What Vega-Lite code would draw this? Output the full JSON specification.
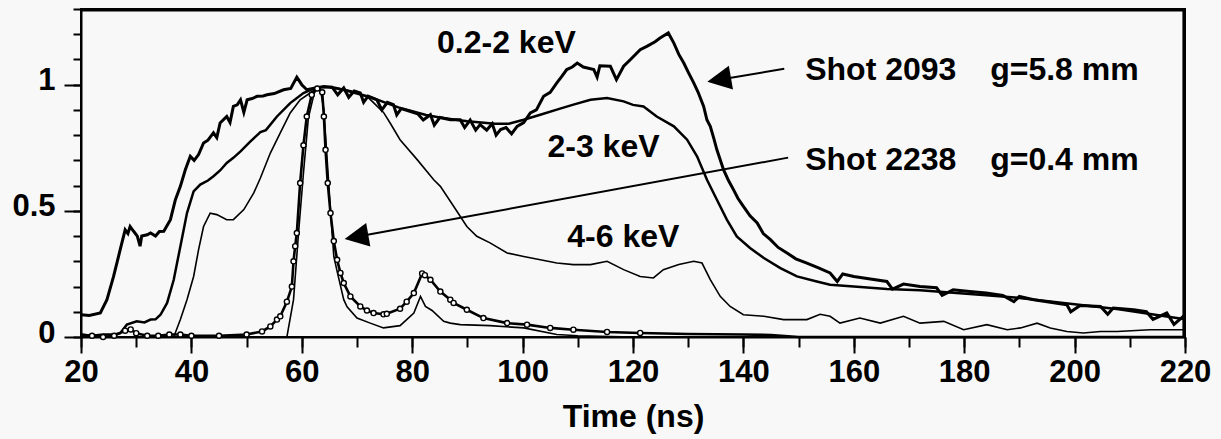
{
  "$schema": "https://vega.github.io/schema/vega-lite/v6.json",
  "width": 1104,
  "height": 328,
  "autosize": {"type": "none"},
  "padding": {"left": 81, "top": 9, "right": 36, "bottom": 102},
  "background": "#f8f8f8",
  "view": {"stroke": "#000000", "strokeWidth": 2},
  "config": {
    "font": "Liberation Sans",
    "axis": {"grid": false, "domainColor": "black", "domainWidth": 2, "tickColor": "black", "tickWidth": 2, "labelColor": "black", "titleColor": "black", "labelFont": "Liberation Sans", "titleFont": "Liberation Sans"}
  },
  "datasets": {
    "curves": [
      {"s":"A","t":20,"v":0.088},{"s":"A","t":21.5,"v":0.085},{"s":"A","t":23.5,"v":0.095},{"s":"A","t":24.7,"v":0.148},{"s":"A","t":25.9,"v":0.24},{"s":"A","t":27.1,"v":0.346},{"s":"A","t":28.0,"v":0.425},{"s":"A","t":28.5,"v":0.41},{"s":"A","t":28.9,"v":0.438},{"s":"A","t":29.5,"v":0.42},{"s":"A","t":30.2,"v":0.4},{"s":"A","t":30.7,"v":0.36},{"s":"A","t":31.0,"v":0.4},{"s":"A","t":32,"v":0.405},{"s":"A","t":32.6,"v":0.412},{"s":"A","t":33.5,"v":0.4},{"s":"A","t":34.2,"v":0.418},{"s":"A","t":35.0,"v":0.419},{"s":"A","t":36.2,"v":0.465},{"s":"A","t":37.1,"v":0.544},{"s":"A","t":38.0,"v":0.597},{"s":"A","t":38.9,"v":0.663},{"s":"A","t":39.8,"v":0.716},{"s":"A","t":40.5,"v":0.7},{"s":"A","t":41.3,"v":0.723},{"s":"A","t":42.2,"v":0.769},{"s":"A","t":43.0,"v":0.78},{"s":"A","t":44.0,"v":0.809},{"s":"A","t":44.6,"v":0.79},{"s":"A","t":45.2,"v":0.848},{"s":"A","t":46.4,"v":0.874},{"s":"A","t":47.0,"v":0.85},{"s":"A","t":47.6,"v":0.914},{"s":"A","t":48.3,"v":0.92},{"s":"A","t":48.9,"v":0.94},{"s":"A","t":49.5,"v":0.89},{"s":"A","t":50.1,"v":0.94},{"s":"A","t":51.0,"v":0.945},{"s":"A","t":51.9,"v":0.954},{"s":"A","t":53.0,"v":0.955},{"s":"A","t":53.7,"v":0.96},{"s":"A","t":55,"v":0.965},{"s":"A","t":56.7,"v":0.98},{"s":"A","t":58,"v":0.985},{"s":"A","t":59.1,"v":1.03},{"s":"A","t":60,"v":1.0},{"s":"A","t":60.9,"v":0.98},{"s":"A","t":62,"v":0.985},{"s":"A","t":64.0,"v":0.993},{"s":"A","t":65.5,"v":0.99},{"s":"A","t":66.5,"v":0.96},{"s":"A","t":67.6,"v":0.987},{"s":"A","t":68.5,"v":0.95},{"s":"A","t":69.5,"v":0.975},{"s":"A","t":70.6,"v":0.967},{"s":"A","t":71.2,"v":0.93},{"s":"A","t":72,"v":0.955},{"s":"A","t":73.6,"v":0.94},{"s":"A","t":74.5,"v":0.9},{"s":"A","t":75.5,"v":0.93},{"s":"A","t":76.6,"v":0.921},{"s":"A","t":77.2,"v":0.88},{"s":"A","t":78,"v":0.905},{"s":"A","t":79.7,"v":0.894},{"s":"A","t":81,"v":0.885},{"s":"A","t":82,"v":0.86},{"s":"A","t":83.3,"v":0.881},{"s":"A","t":84,"v":0.84},{"s":"A","t":85,"v":0.87},{"s":"A","t":86.9,"v":0.861},{"s":"A","t":88.7,"v":0.861},{"s":"A","t":89.5,"v":0.83},{"s":"A","t":90.5,"v":0.86},{"s":"A","t":91.5,"v":0.82},{"s":"A","t":92.3,"v":0.842},{"s":"A","t":93.5,"v":0.82},{"s":"A","t":94.5,"v":0.845},{"s":"A","t":95.2,"v":0.8},{"s":"A","t":96.0,"v":0.822},{"s":"A","t":97,"v":0.83},{"s":"A","t":98,"v":0.805},{"s":"A","t":99.0,"v":0.835},{"s":"A","t":100.2,"v":0.85},{"s":"A","t":101.4,"v":0.888},{"s":"A","t":102.5,"v":0.9},{"s":"A","t":103.8,"v":0.954},{"s":"A","t":105,"v":0.97},{"s":"A","t":106.2,"v":1.007},{"s":"A","t":107,"v":1.03},{"s":"A","t":108.0,"v":1.06},{"s":"A","t":109,"v":1.07},{"s":"A","t":109.9,"v":1.086},{"s":"A","t":111,"v":1.07},{"s":"A","t":112.9,"v":1.06},{"s":"A","t":113.5,"v":1.03},{"s":"A","t":114,"v":1.075},{"s":"A","t":115.9,"v":1.073},{"s":"A","t":117,"v":1.02},{"s":"A","t":118.3,"v":1.073},{"s":"A","t":119.5,"v":1.099},{"s":"A","t":121.3,"v":1.139},{"s":"A","t":122.5,"v":1.152},{"s":"A","t":124,"v":1.17},{"s":"A","t":124.9,"v":1.185},{"s":"A","t":126.4,"v":1.205},{"s":"A","t":127.4,"v":1.165},{"s":"A","t":128.3,"v":1.12},{"s":"A","t":129.2,"v":1.086},{"s":"A","t":130,"v":1.05},{"s":"A","t":131.0,"v":1.007},{"s":"A","t":131.8,"v":0.97},{"s":"A","t":132.8,"v":0.914},{"s":"A","t":133.4,"v":0.86},{"s":"A","t":134.0,"v":0.835},{"s":"A","t":134.6,"v":0.79},{"s":"A","t":135.2,"v":0.742},{"s":"A","t":136.4,"v":0.663},{"s":"A","t":137.3,"v":0.62},{"s":"A","t":138.2,"v":0.584},{"s":"A","t":139,"v":0.55},{"s":"A","t":140.0,"v":0.518},{"s":"A","t":141.2,"v":0.48},{"s":"A","t":142.5,"v":0.452},{"s":"A","t":143.6,"v":0.41},{"s":"A","t":144.9,"v":0.386},{"s":"A","t":146.3,"v":0.355},{"s":"A","t":147.9,"v":0.333},{"s":"A","t":149.5,"v":0.31},{"s":"A","t":151.5,"v":0.293},{"s":"A","t":153.5,"v":0.275},{"s":"A","t":155.7,"v":0.254},{"s":"A","t":157,"v":0.22},{"s":"A","t":158,"v":0.25},{"s":"A","t":160,"v":0.24},{"s":"A","t":163,"v":0.23},{"s":"A","t":166,"v":0.22},{"s":"A","t":167,"v":0.19},{"s":"A","t":169,"v":0.21},{"s":"A","t":172,"v":0.2},{"s":"A","t":175,"v":0.195},{"s":"A","t":176,"v":0.165},{"s":"A","t":178,"v":0.187},{"s":"A","t":181,"v":0.18},{"s":"A","t":184,"v":0.174},{"s":"A","t":187,"v":0.165},{"s":"A","t":189,"v":0.14},{"s":"A","t":190,"v":0.161},{"s":"A","t":192.6,"v":0.148},{"s":"A","t":195,"v":0.14},{"s":"A","t":198.6,"v":0.128},{"s":"A","t":199.3,"v":0.1},{"s":"A","t":201,"v":0.125},{"s":"A","t":204.7,"v":0.121},{"s":"A","t":206,"v":0.09},{"s":"A","t":207,"v":0.115},{"s":"A","t":210.7,"v":0.108},{"s":"A","t":213,"v":0.1},{"s":"A","t":214.2,"v":0.07},{"s":"A","t":216.7,"v":0.095},{"s":"A","t":218,"v":0.05},{"s":"A","t":220,"v":0.088},

      {"s":"B","t":20,"v":0.009},{"s":"B","t":22,"v":0.005},{"s":"B","t":24,"v":0.01},{"s":"B","t":26,"v":0.01},{"s":"B","t":27.1,"v":0.015},{"s":"B","t":28.3,"v":0.049},{"s":"B","t":30.1,"v":0.062},{"s":"B","t":31.5,"v":0.058},{"s":"B","t":32.6,"v":0.069},{"s":"B","t":33.5,"v":0.07},{"s":"B","t":34.4,"v":0.088},{"s":"B","t":35.6,"v":0.135},{"s":"B","t":36.8,"v":0.227},{"s":"B","t":38.0,"v":0.359},{"s":"B","t":39.2,"v":0.491},{"s":"B","t":40.4,"v":0.577},{"s":"B","t":41.6,"v":0.604},{"s":"B","t":43,"v":0.62},{"s":"B","t":44.0,"v":0.637},{"s":"B","t":45.2,"v":0.66},{"s":"B","t":46.4,"v":0.69},{"s":"B","t":47.6,"v":0.71},{"s":"B","t":48.9,"v":0.736},{"s":"B","t":50.7,"v":0.775},{"s":"B","t":52.5,"v":0.812},{"s":"B","t":53.5,"v":0.82},{"s":"B","t":55.5,"v":0.874},{"s":"B","t":57.9,"v":0.927},{"s":"B","t":60.3,"v":0.967},{"s":"B","t":62.8,"v":0.99},{"s":"B","t":65,"v":0.99},{"s":"B","t":67.5,"v":0.98},{"s":"B","t":70,"v":0.965},{"s":"B","t":72.5,"v":0.95},{"s":"B","t":75,"v":0.93},{"s":"B","t":77.5,"v":0.91},{"s":"B","t":80,"v":0.895},{"s":"B","t":82.5,"v":0.88},{"s":"B","t":85,"v":0.87},{"s":"B","t":87.5,"v":0.862},{"s":"B","t":90,"v":0.855},{"s":"B","t":92.5,"v":0.85},{"s":"B","t":95,"v":0.845},{"s":"B","t":97.5,"v":0.845},{"s":"B","t":100.2,"v":0.861},{"s":"B","t":103.2,"v":0.881},{"s":"B","t":106.2,"v":0.901},{"s":"B","t":109.2,"v":0.921},{"s":"B","t":112.3,"v":0.94},{"s":"B","t":115.3,"v":0.947},{"s":"B","t":118.3,"v":0.934},{"s":"B","t":120,"v":0.92},{"s":"B","t":121.9,"v":0.914},{"s":"B","t":124.3,"v":0.874},{"s":"B","t":127.4,"v":0.835},{"s":"B","t":129.8,"v":0.782},{"s":"B","t":131.6,"v":0.716},{"s":"B","t":133.4,"v":0.623},{"s":"B","t":135.2,"v":0.544},{"s":"B","t":137.0,"v":0.465},{"s":"B","t":138.8,"v":0.399},{"s":"B","t":141.2,"v":0.353},{"s":"B","t":143.7,"v":0.313},{"s":"B","t":146.7,"v":0.273},{"s":"B","t":149.7,"v":0.24},{"s":"B","t":153.3,"v":0.22},{"s":"B","t":155.7,"v":0.207},{"s":"B","t":160,"v":0.2},{"s":"B","t":166,"v":0.19},{"s":"B","t":172,"v":0.185},{"s":"B","t":178,"v":0.175},{"s":"B","t":184,"v":0.165},{"s":"B","t":190,"v":0.155},{"s":"B","t":196,"v":0.14},{"s":"B","t":202,"v":0.125},{"s":"B","t":208,"v":0.11},{"s":"B","t":214,"v":0.09},{"s":"B","t":220,"v":0.07},

      {"s":"C","t":20,"v":0.0},{"s":"C","t":30,"v":0.0},{"s":"C","t":36.8,"v":0.0},{"s":"C","t":38.0,"v":0.069},{"s":"C","t":39.2,"v":0.148},{"s":"C","t":40.4,"v":0.24},{"s":"C","t":41.3,"v":0.346},{"s":"C","t":42.2,"v":0.438},{"s":"C","t":43.4,"v":0.491},{"s":"C","t":44.6,"v":0.485},{"s":"C","t":46.4,"v":0.465},{"s":"C","t":47.6,"v":0.465},{"s":"C","t":49.5,"v":0.505},{"s":"C","t":51.3,"v":0.571},{"s":"C","t":52.5,"v":0.63},{"s":"C","t":54.3,"v":0.729},{"s":"C","t":56.1,"v":0.809},{"s":"C","t":57.9,"v":0.888},{"s":"C","t":59.7,"v":0.94},{"s":"C","t":61.5,"v":0.967},{"s":"C","t":63,"v":0.99},{"s":"C","t":66,"v":0.99},{"s":"C","t":69,"v":0.975},{"s":"C","t":72,"v":0.95},{"s":"C","t":74.8,"v":0.89},{"s":"C","t":76.0,"v":0.848},{"s":"C","t":77.8,"v":0.782},{"s":"C","t":80.9,"v":0.703},{"s":"C","t":83.9,"v":0.623},{"s":"C","t":85.1,"v":0.597},{"s":"C","t":87.5,"v":0.518},{"s":"C","t":89.9,"v":0.438},{"s":"C","t":91.7,"v":0.399},{"s":"C","t":94.1,"v":0.373},{"s":"C","t":97.2,"v":0.333},{"s":"C","t":100.2,"v":0.319},{"s":"C","t":103.2,"v":0.306},{"s":"C","t":106.2,"v":0.293},{"s":"C","t":109.2,"v":0.287},{"s":"C","t":112.3,"v":0.287},{"s":"C","t":115.3,"v":0.3},{"s":"C","t":118.3,"v":0.267},{"s":"C","t":121.3,"v":0.24},{"s":"C","t":123.7,"v":0.234},{"s":"C","t":125.5,"v":0.267},{"s":"C","t":128.3,"v":0.287},{"s":"C","t":131.0,"v":0.3},{"s":"C","t":132.5,"v":0.293},{"s":"C","t":134.0,"v":0.227},{"s":"C","t":135.8,"v":0.161},{"s":"C","t":137.6,"v":0.121},{"s":"C","t":140.0,"v":0.088},{"s":"C","t":143.7,"v":0.082},{"s":"C","t":147.3,"v":0.069},{"s":"C","t":151.5,"v":0.069},{"s":"C","t":153.9,"v":0.09},{"s":"C","t":155.7,"v":0.082},{"s":"C","t":157.5,"v":0.055},{"s":"C","t":161.1,"v":0.075},{"s":"C","t":164.8,"v":0.055},{"s":"C","t":169.0,"v":0.082},{"s":"C","t":172.0,"v":0.055},{"s":"C","t":176.3,"v":0.062},{"s":"C","t":179.9,"v":0.029},{"s":"C","t":184.1,"v":0.049},{"s":"C","t":187.8,"v":0.029},{"s":"C","t":190.2,"v":0.036},{"s":"C","t":193.2,"v":0.055},{"s":"C","t":195.6,"v":0.036},{"s":"C","t":198.6,"v":0.022},{"s":"C","t":201.6,"v":0.016},{"s":"C","t":204.7,"v":0.022},{"s":"C","t":207.7,"v":0.022},{"s":"C","t":213.7,"v":0.029},{"s":"C","t":220,"v":0.029},

      {"s":"D","t":20,"v":0.01},{"s":"D","t":22,"v":0.005},{"s":"D","t":24,"v":0.0},{"s":"D","t":26,"v":0.005},{"s":"D","t":28,"v":0.025},{"s":"D","t":29,"v":0.03},{"s":"D","t":30,"v":0.015},{"s":"D","t":32,"v":0.005},{"s":"D","t":34,"v":0.005},{"s":"D","t":36,"v":0.01},{"s":"D","t":38,"v":0.01},{"s":"D","t":40,"v":0.005},{"s":"D","t":45,"v":0.005},{"s":"D","t":50,"v":0.01},{"s":"D","t":52.8,"v":0.022},{"s":"D","t":54.3,"v":0.042},{"s":"D","t":55.5,"v":0.069},{"s":"D","t":56.1,"v":0.082},{"s":"D","t":57.3,"v":0.14},{"s":"D","t":58.2,"v":0.2},{"s":"D","t":58.5,"v":0.3},{"s":"D","t":58.8,"v":0.36},{"s":"D","t":59.1,"v":0.412},{"s":"D","t":59.7,"v":0.61},{"s":"D","t":60.3,"v":0.76},{"s":"D","t":60.9,"v":0.874},{"s":"D","t":61.8,"v":0.96},{"s":"D","t":62.8,"v":0.985},{"s":"D","t":63.7,"v":0.97},{"s":"D","t":64.0,"v":0.874},{"s":"D","t":64.3,"v":0.742},{"s":"D","t":64.7,"v":0.61},{"s":"D","t":65.2,"v":0.491},{"s":"D","t":65.8,"v":0.38},{"s":"D","t":66.4,"v":0.306},{"s":"D","t":67.0,"v":0.254},{"s":"D","t":67.6,"v":0.214},{"s":"D","t":68.8,"v":0.161},{"s":"D","t":70.6,"v":0.121},{"s":"D","t":71.8,"v":0.105},{"s":"D","t":73.0,"v":0.095},{"s":"D","t":74.8,"v":0.09},{"s":"D","t":75.4,"v":0.092},{"s":"D","t":77.8,"v":0.112},{"s":"D","t":79,"v":0.14},{"s":"D","t":80.3,"v":0.174},{"s":"D","t":81.8,"v":0.252},{"s":"D","t":82.3,"v":0.245},{"s":"D","t":83.3,"v":0.227},{"s":"D","t":85.1,"v":0.18},{"s":"D","t":86.9,"v":0.148},{"s":"D","t":87.5,"v":0.135},{"s":"D","t":89.9,"v":0.108},{"s":"D","t":92.9,"v":0.075},{"s":"D","t":97.2,"v":0.055},{"s":"D","t":100.8,"v":0.049},{"s":"D","t":105.0,"v":0.036},{"s":"D","t":109.2,"v":0.029},{"s":"D","t":115.3,"v":0.02},{"s":"D","t":121.3,"v":0.016},{"s":"D","t":130,"v":0.012},{"s":"D","t":140,"v":0.01},{"s":"D","t":145,"v":0.008},{"s":"D","t":150,"v":0.0},{"s":"D","t":180,"v":0.0},{"s":"D","t":220,"v":0.0},

      {"s":"F","t":20,"v":0.0},{"s":"F","t":50,"v":0.0},{"s":"F","t":57.3,"v":0.0},{"s":"F","t":58.5,"v":0.148},{"s":"F","t":59.4,"v":0.41},{"s":"F","t":60.3,"v":0.65},{"s":"F","t":61.2,"v":0.87},{"s":"F","t":62.4,"v":0.98},{"s":"F","t":63.3,"v":0.99},{"s":"F","t":64.0,"v":0.9},{"s":"F","t":64.6,"v":0.7},{"s":"F","t":65.2,"v":0.5},{"s":"F","t":65.8,"v":0.32},{"s":"F","t":66.4,"v":0.26},{"s":"F","t":67.6,"v":0.148},{"s":"F","t":68.2,"v":0.12},{"s":"F","t":70.0,"v":0.075},{"s":"F","t":72.4,"v":0.055},{"s":"F","t":74.8,"v":0.036},{"s":"F","t":77.8,"v":0.045},{"s":"F","t":80.3,"v":0.095},{"s":"F","t":81.5,"v":0.161},{"s":"F","t":82.4,"v":0.121},{"s":"F","t":83.6,"v":0.105},{"s":"F","t":85.7,"v":0.062},{"s":"F","t":86.9,"v":0.055},{"s":"F","t":88.7,"v":0.049},{"s":"F","t":94.1,"v":0.045},{"s":"F","t":100.2,"v":0.036},{"s":"F","t":106.2,"v":0.01},{"s":"F","t":110,"v":0.005},{"s":"F","t":120,"v":0.0},{"s":"F","t":220,"v":0.0}
    ],
    "border": [
      {"side":"top","t":20,"v":1.296},{"side":"top","t":219.8,"v":1.296},
      {"side":"right","t":219.8,"v":1.296},{"side":"right","t":219.8,"v":0}
    ],
    "labels": [
      {"txt":"0.2-2 keV","t":84.5,"v":1.127},
      {"txt":"2-3 keV","t":104.5,"v":0.715},
      {"txt":"4-6 keV","t":108.1,"v":0.358},
      {"txt":"Shot 2093","t":151.2,"v":1.02},
      {"txt":"g=5.8 mm","t":184.7,"v":1.02},
      {"txt":"Shot 2238","t":151.2,"v":0.663},
      {"txt":"g=0.4 mm","t":184.7,"v":0.663}
    ],
    "arrowLines": [
      {"a":1,"t":147.4,"v":1.063},{"a":1,"t":135.6,"v":1.02},
      {"a":2,"t":148.1,"v":0.711},{"a":2,"t":69.9,"v":0.397}
    ],
    "arrowHeads": [
      {"a":1,"t":135.6,"v":1.02},
      {"a":2,"t":69.9,"v":0.397}
    ]
  },
  "layer": [
    {
      "data": {"name": "curves"},
      "transform": [{"filter": "datum.s === 'A'"}],
      "mark": {"type": "line", "color": "black", "strokeWidth": 3, "strokeJoin": "miter"},
      "encoding": {
        "x": {"field": "t", "type": "quantitative", "scale": {"domain": [20, 220], "nice": false, "zero": false},
          "axis": {"orient": "bottom", "values": [20,40,60,80,100,120,140,160,180,200,220], "format": "d", "tickSize": 16, "labelFontSize": 31, "labelFontWeight": "bold", "labelPadding": 4, "labelFlush": false, "labelOverlap": false, "title": "Time (ns)", "titleFontSize": 32, "titleFontWeight": "bold", "titlePadding": 14}},
        "y": {"field": "v", "type": "quantitative", "scale": {"domain": [0, 1.3], "nice": false, "zero": false},
          "axis": {"orient": "left", "values": [0, 0.5, 1], "format": "~g", "tickSize": 17, "labelFontSize": 31, "labelFontWeight": "bold", "labelPadding": 9, "labelOffset": -4, "labelFlush": false, "labelOverlap": false, "title": null}}
      }
    },
    {
      "data": {"name": "curves"},
      "transform": [{"filter": "datum.s === 'B'"}],
      "mark": {"type": "line", "color": "black", "strokeWidth": 2.5},
      "encoding": {
        "x": {"field": "t", "type": "quantitative",
          "axis": {"orient": "bottom", "values": [20,30,40,50,60,70,80,90,100,110,120,130,140,150,160,170,180,190,200,210,220], "tickSize": 10, "labels": false, "domain": false, "title": null}},
        "y": {"field": "v", "type": "quantitative",
          "axis": {"orient": "left", "values": [0,0.1,0.2,0.3,0.4,0.5,0.6,0.7,0.8,0.9,1,1.1,1.2,1.3], "tickSize": 8, "labels": false, "domain": false, "title": null}}
      }
    },
    {
      "data": {"name": "border"},
      "mark": {"type": "line", "color": "#000000", "strokeWidth": 3, "clip": false},
      "encoding": {
        "x": {"field": "t", "type": "quantitative", "axis": null},
        "y": {"field": "v", "type": "quantitative", "axis": null},
        "detail": {"field": "side", "type": "nominal"}
      }
    },
    {
      "data": {"name": "curves"},
      "transform": [{"filter": "datum.s === 'C'"}],
      "mark": {"type": "line", "color": "black", "strokeWidth": 1.6},
      "encoding": {
        "x": {"field": "t", "type": "quantitative", "axis": null},
        "y": {"field": "v", "type": "quantitative", "axis": null}
      }
    },
    {
      "data": {"name": "curves"},
      "transform": [{"filter": "datum.s === 'D'"}],
      "mark": {"type": "line", "color": "black", "strokeWidth": 2.6},
      "encoding": {
        "x": {"field": "t", "type": "quantitative", "axis": null},
        "y": {"field": "v", "type": "quantitative", "axis": null}
      }
    },
    {
      "data": {"name": "curves"},
      "transform": [{"filter": "datum.s === 'F'"}],
      "mark": {"type": "line", "color": "black", "strokeWidth": 1.6},
      "encoding": {
        "x": {"field": "t", "type": "quantitative", "axis": null},
        "y": {"field": "v", "type": "quantitative", "axis": null}
      }
    },
    {
      "data": {"name": "curves"},
      "transform": [{"filter": "datum.s === 'D' && datum.t > 20 && datum.t < 122"}],
      "mark": {"type": "point", "shape": "circle", "size": 26, "fill": "white", "fillOpacity": 1, "stroke": "black", "strokeWidth": 1.4, "opacity": 1},
      "encoding": {
        "x": {"field": "t", "type": "quantitative", "axis": null},
        "y": {"field": "v", "type": "quantitative", "axis": null}
      }
    },
    {
      "data": {"name": "arrowLines"},
      "mark": {"type": "line", "color": "black", "strokeWidth": 2},
      "encoding": {
        "x": {"field": "t", "type": "quantitative", "axis": null},
        "y": {"field": "v", "type": "quantitative", "axis": null},
        "detail": {"field": "a", "type": "nominal"}
      }
    },
    {
      "data": {"name": "arrowHeads"},
      "mark": {"type": "point", "shape": "M-1,0L1,-1L1,1Z", "size": 576, "angle": 350, "filled": true, "color": "black", "opacity": 1, "strokeWidth": 0},
      "encoding": {
        "x": {"field": "t", "type": "quantitative", "axis": null},
        "y": {"field": "v", "type": "quantitative", "axis": null}
      }
    },
    {
      "data": {"name": "labels"},
      "mark": {"type": "text", "align": "left", "baseline": "alphabetic", "fontSize": 32, "fontWeight": "bold", "font": "Liberation Sans", "color": "black"},
      "encoding": {
        "x": {"field": "t", "type": "quantitative", "axis": null},
        "y": {"field": "v", "type": "quantitative", "axis": null},
        "text": {"field": "txt", "type": "nominal"}
      }
    }
  ],
  "resolve": {"axis": {"x": "independent", "y": "independent"}}
}
